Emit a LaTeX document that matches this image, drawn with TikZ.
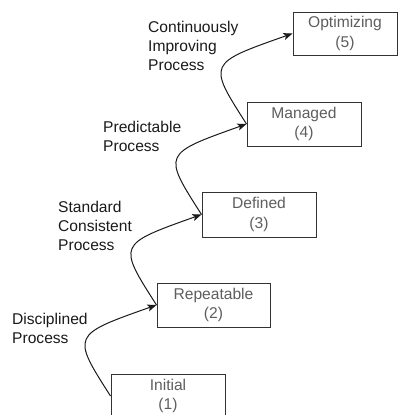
\documentclass[tikz,border=0pt]{standalone}
\usepackage{fontspec}
\setmainfont{Liberation Sans}
\usetikzlibrary{arrows.meta}
\definecolor{boxtext}{HTML}{5E5E5E}
\definecolor{boxline}{HTML}{333333}
\definecolor{labtext}{HTML}{1A1A1A}
\tikzset{
  level/.style={draw=boxline, line width=1pt, fill=white, text=boxtext, align=center,
    minimum width=114pt, minimum height=44pt, inner sep=0pt,
    font=\fontsize{15.6}{19.5}\selectfont},
  lab/.style={text=labtext, align=left, anchor=west, inner sep=0pt,
    font=\fontsize{15.6}{19}\selectfont},
  stepedge/.style={draw=labtext, line width=1pt, -{Stealth[length=9pt,width=7pt,inset=2pt]}}
}
\begin{document}
\begin{tikzpicture}[x=1pt,y=-1pt]
\path[use as bounding box, clip] (0,0) rectangle (398,415);
\node[level] (init) at (168,396) {Initial\\(1)};
\node[level, minimum width=113pt] (rep) at (213.5,305) {Repeatable\\(2)};
\node[level, minimum height=45pt] (def) at (259,214.5) {Defined\\(3)};
\node[level] (man) at (304,124) {Managed\\(4)};
\node[level, minimum width=104pt, minimum height=43pt] (opt) at (345,33.5) {Optimizing\\(5)};

\node[lab] (l1) at (12,328.5) {Disciplined\\Process};
\node[lab] (l2) at (58,226) {Standard\\Consistent\\Process};
\node[lab] (l3) at (103,136.5) {Predictable\\Process};
\node[lab] (l4) at (148,46) {Continuously\\Improving\\Process};

\draw[stepedge] (init.west) .. controls +(-39,-61) and +(-85,30) .. (rep.west);
\draw[stepedge] (rep.west) .. controls +(-39,-61) and +(-84,30) .. (def.west);
\draw[stepedge] (def.west) .. controls +(-39,-61) and +(-84,30) .. (man.west);
\draw[stepedge] (man.west) .. controls +(-39,-61) and +(-85,30) .. (opt.west);
\end{tikzpicture}
\end{document}
